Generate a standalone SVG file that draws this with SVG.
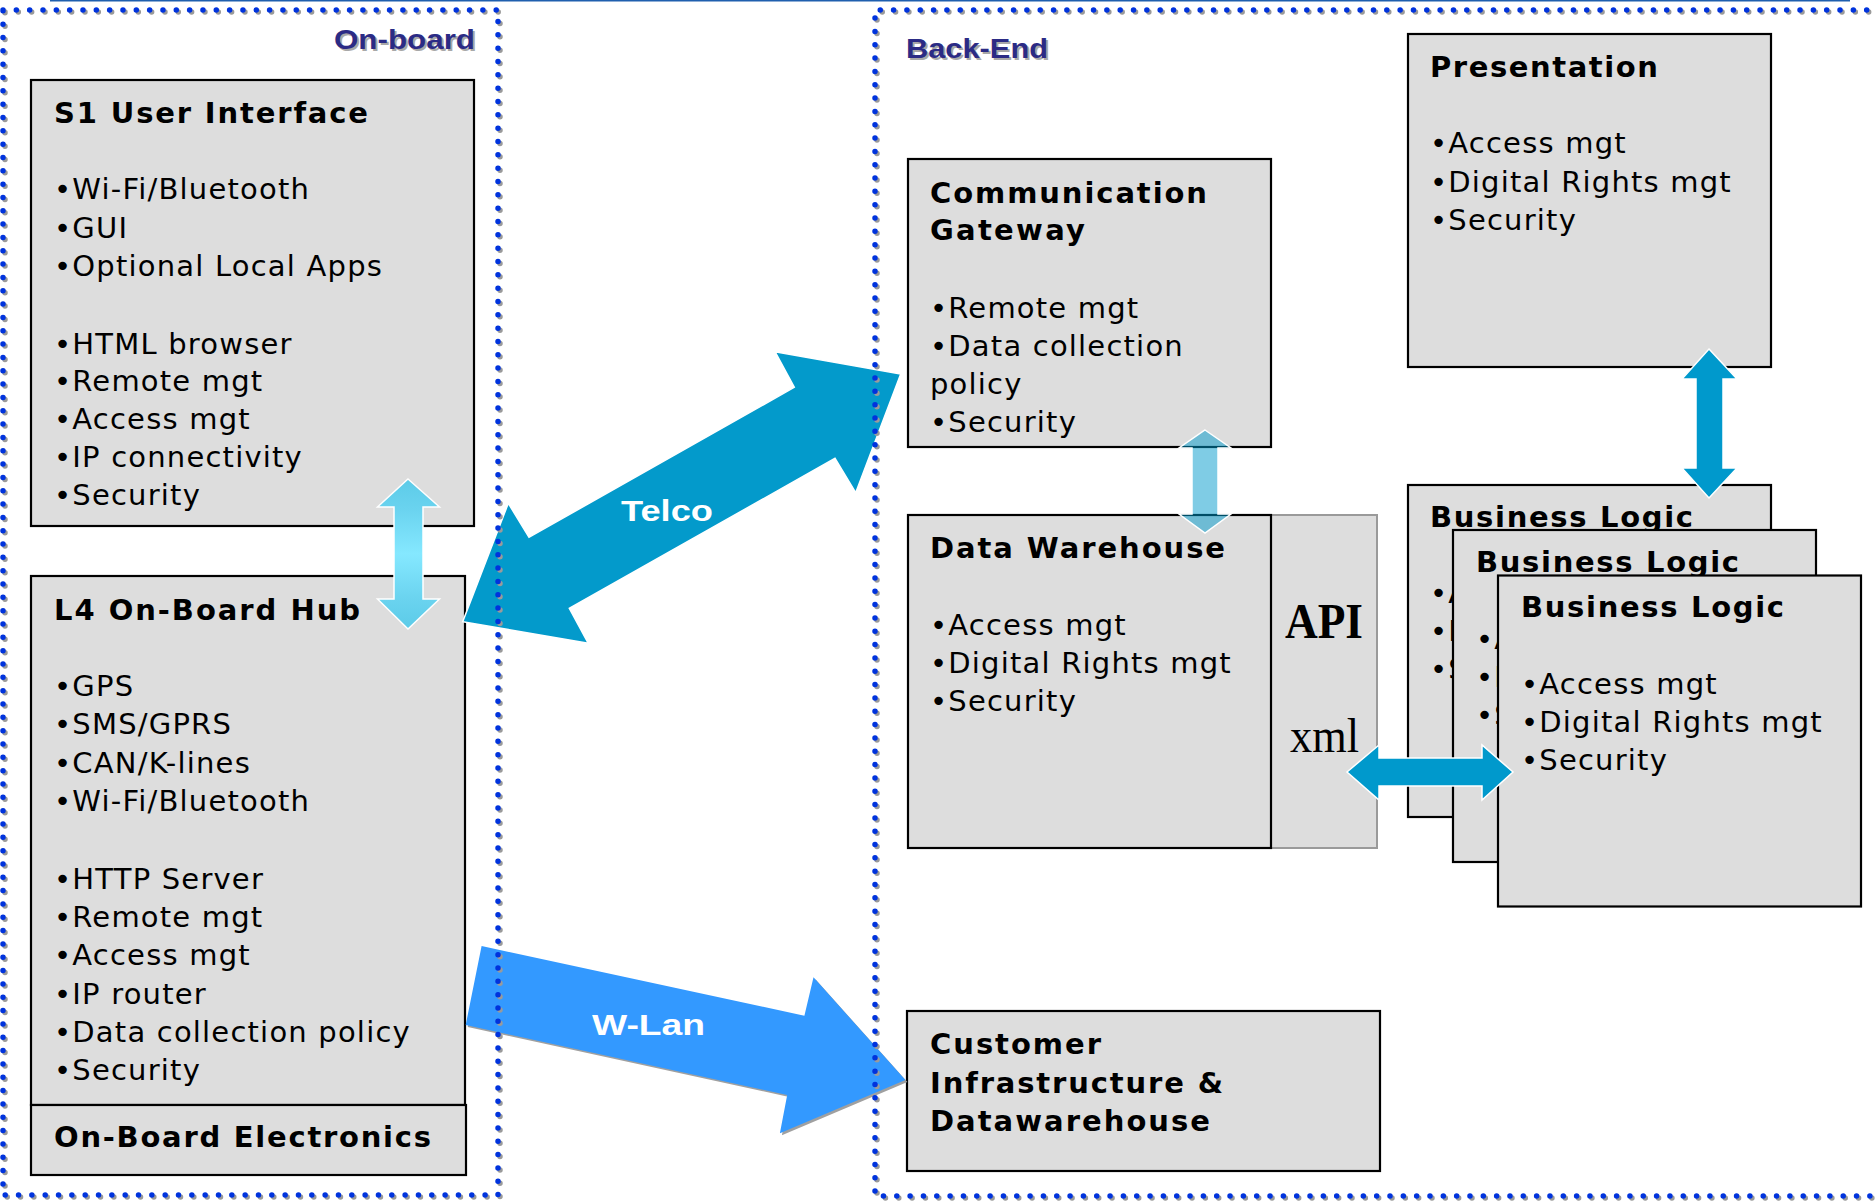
<svg xmlns="http://www.w3.org/2000/svg" width="1876" height="1203" viewBox="0 0 1876 1203">
<defs>
<style>
.box{fill:#dddddd;stroke:#000;stroke-width:2.2}
.t{font-family:"DejaVu Sans","Verdana",sans-serif;font-size:29px;fill:#000;letter-spacing:1.2px}
.b{font-family:"DejaVu Sans","Verdana",sans-serif;font-size:29px;font-weight:bold;fill:#000}
.frame{fill:none;stroke:#0033dd;stroke-width:5.5;stroke-linecap:round;stroke-dasharray:0 13.33}
.frameS{fill:none;stroke:#9a9a9a;stroke-width:5.5;stroke-linecap:round;stroke-dasharray:0 13.33}
.lbl{font-family:"Liberation Sans",Arial,sans-serif;font-size:27px;font-weight:bold;fill:#2b2b85}
.lblS{font-family:"Liberation Sans",Arial,sans-serif;font-size:27px;font-weight:bold;fill:#a8a8a8}
.arr{fill:#0099cc;stroke:#fff;stroke-width:1.5}
.wt{font-family:"Liberation Sans",Arial,sans-serif;font-size:30px;font-weight:bold;fill:#fff}
</style>
<linearGradient id="cyanG" gradientUnits="userSpaceOnUse" x1="0" y1="479" x2="0" y2="629">
<stop offset="0" stop-color="#5ccbe8"/>
<stop offset="0.2" stop-color="#6ad3ef"/>
<stop offset="0.5" stop-color="#85e8ff"/>
<stop offset="0.8" stop-color="#6ad3ef"/>
<stop offset="1" stop-color="#5ccbe8"/>
</linearGradient>
</defs>
<rect x="0" y="0" width="1876" height="1203" fill="#fff"/>
<line x1="50" y1="0.8" x2="1850" y2="0.8" stroke="#1f5fae" stroke-width="1.6"/>

<g id="s1-user-interface">
<rect class="box" x="31" y="80" width="443" height="446"/>
<text class="b" x="54" y="123" textLength="314" lengthAdjust="spacing">S1 User Interface</text>
<text class="t" x="54" y="199">•Wi-Fi/Bluetooth</text>
<text class="t" x="54" y="237.5">•GUI</text>
<text class="t" x="54" y="276">•Optional Local Apps</text>
<text class="t" x="54" y="354">•HTML browser</text>
<text class="t" x="54" y="391">•Remote mgt</text>
<text class="t" x="54" y="429">•Access mgt</text>
<text class="t" x="54" y="467">•IP connectivity</text>
<text class="t" x="54" y="505">•Security</text>
</g>

<g id="l4-on-board-hub">
<rect class="box" x="31" y="576" width="434" height="529"/>
<text class="b" x="54" y="620" textLength="306" lengthAdjust="spacing">L4 On-Board Hub</text>
<text class="t" x="54" y="696">•GPS</text>
<text class="t" x="54" y="734">•SMS/GPRS</text>
<text class="t" x="54" y="773">•CAN/K-lines</text>
<text class="t" x="54" y="811">•Wi-Fi/Bluetooth</text>
<text class="t" x="54" y="889">•HTTP Server</text>
<text class="t" x="54" y="927">•Remote mgt</text>
<text class="t" x="54" y="965">•Access mgt</text>
<text class="t" x="54" y="1004">•IP router</text>
<text class="t" x="54" y="1042">•Data collection policy</text>
<text class="t" x="54" y="1080">•Security</text>
</g>

<g id="on-board-electronics">
<rect class="box" x="31" y="1105" width="435" height="70"/>
<text class="b" x="54" y="1147" textLength="377" lengthAdjust="spacing">On-Board Electronics</text>
</g>

<g id="communication-gateway">
<rect class="box" x="908" y="159" width="363" height="288"/>
<text class="b" x="930" y="203" textLength="277" lengthAdjust="spacing">Communication</text>
<text class="b" x="930" y="240" textLength="155" lengthAdjust="spacing">Gateway</text>
<text class="t" x="930" y="318">•Remote mgt</text>
<text class="t" x="930" y="356">•Data collection</text>
<text class="t" x="930" y="394">policy</text>
<text class="t" x="930" y="432">•Security</text>
</g>

<g id="presentation">
<rect class="box" x="1408" y="34" width="363" height="333"/>
<text class="b" x="1430" y="77" textLength="228" lengthAdjust="spacing">Presentation</text>
<text class="t" x="1430" y="153">•Access mgt</text>
<text class="t" x="1430" y="192">•Digital Rights mgt</text>
<text class="t" x="1430" y="230">•Security</text>
</g>

<g id="api-xml">
<rect x="1271" y="515" width="106" height="333" fill="#dddddd" stroke="#9a9a9a" stroke-width="2"/>
<text x="1285" y="638" font-family="'Liberation Serif','Times New Roman',serif" font-size="50" font-weight="bold" textLength="78" lengthAdjust="spacingAndGlyphs">API</text>
<text x="1290" y="752" font-family="'Liberation Serif','Times New Roman',serif" font-size="48" textLength="69" lengthAdjust="spacingAndGlyphs">xml</text>
</g>

<g id="data-warehouse">
<rect class="box" x="908" y="515" width="363" height="333"/>
<text class="b" x="930" y="558" textLength="295" lengthAdjust="spacing">Data Warehouse</text>
<text class="t" x="930" y="635">•Access mgt</text>
<text class="t" x="930" y="673">•Digital Rights mgt</text>
<text class="t" x="930" y="711">•Security</text>
</g>

<g id="business-logic-1">
<rect class="box" x="1408" y="485" width="363" height="332"/>
<text class="b" x="1430" y="527" textLength="263" lengthAdjust="spacing">Business Logic</text>
<text class="t" x="1430" y="603">•Access mgt</text>
<text class="t" x="1430" y="641">•Digital Rights mgt</text>
<text class="t" x="1430" y="679">•Security</text>
</g>

<g id="business-logic-2">
<rect class="box" x="1453" y="530" width="363" height="332"/>
<text class="b" x="1476" y="572" textLength="263" lengthAdjust="spacing">Business Logic</text>
<text class="t" x="1476" y="648.5">•Access mgt</text>
<text class="t" x="1476" y="686.5">•Digital Rights mgt</text>
<text class="t" x="1476" y="724.5">•Security</text>
</g>

<g id="business-logic-3">
<rect class="box" x="1498" y="575.5" width="363" height="331"/>
<text class="b" x="1521" y="617" textLength="263" lengthAdjust="spacing">Business Logic</text>
<text class="t" x="1521" y="694">•Access mgt</text>
<text class="t" x="1521" y="732">•Digital Rights mgt</text>
<text class="t" x="1521" y="770">•Security</text>
</g>

<g id="customer-infrastructure">
<rect class="box" x="907" y="1011" width="473" height="160"/>
<text class="b" x="930" y="1054" textLength="171" lengthAdjust="spacing">Customer</text>
<text class="b" x="930" y="1093" textLength="293" lengthAdjust="spacing">Infrastructure &amp;</text>
<text class="b" x="930" y="1131" textLength="280" lengthAdjust="spacing">Datawarehouse</text>
</g>

<g id="connectors">
<polygon points="408,479 439.5,507 423,507 423,599 439.5,599 408,629 377.5,599 394,599 394,507 377.5,507" fill="url(#cyanG)" stroke="#fff" stroke-width="1.5"/>
<polygon points="1205,430 1231,448 1218,448 1218,514 1231,514 1205,533 1179,514 1192,514 1192,448 1179,448" fill="#0099cc" fill-opacity="0.5" stroke="#fff" stroke-width="1.5"/>
<polygon class="arr" points="1709,349 1737,379 1723,379 1723,468 1737,468 1709,498 1682,468 1696,468 1696,379 1682,379"/>
<polygon class="arr" points="1347,772 1379,745 1379,758 1482,758 1482,745 1513,772 1482,800 1482,786 1379,786 1379,800"/>
<polygon points="900.7,374 855.7,492.7 835,458.3 569.3,608.3 588.3,643.3 462.7,621.7 508.3,503.3 529,537.3 794.3,387.3 775,351.7" fill="#039acb" stroke="#fff" stroke-width="1.5"/>
<text class="wt" x="621" y="521" textLength="92" lengthAdjust="spacingAndGlyphs">Telco</text>
<polygon points="483.6,948 806.4,1017.7 815.5,979.3 907.4,1082 781.9,1135.3 789.2,1097 467.7,1027" fill="#a0a0a0"/>
<polygon points="481.6,946 804.4,1015.7 813.5,977.3 905.4,1080 779.9,1133.3 787.2,1095 465.7,1025" fill="#3399ff"/>
<text class="wt" x="592" y="1035" textLength="113" lengthAdjust="spacingAndGlyphs">W-Lan</text>
</g>

<g id="on-board-frame">
<path class="frameS" d="M5 12 H500 V1197 H5 Z"/>
<path class="frame" d="M3 10 H498 V1195 H3 Z"/>
<text class="lblS" x="336" y="51" textLength="141" lengthAdjust="spacingAndGlyphs">On-board</text>
<text class="lbl" x="334" y="49" textLength="141" lengthAdjust="spacingAndGlyphs">On-board</text>
</g>

<g id="back-end-frame">
<path class="frameS" d="M1882 12 H877 V1198 H1882"/>
<path class="frame" d="M1880 10 H875 V1196 H1880"/>
<text class="lblS" x="908" y="60" textLength="142" lengthAdjust="spacingAndGlyphs">Back-End</text>
<text class="lbl" x="906" y="58" textLength="142" lengthAdjust="spacingAndGlyphs">Back-End</text>
</g>
</svg>
